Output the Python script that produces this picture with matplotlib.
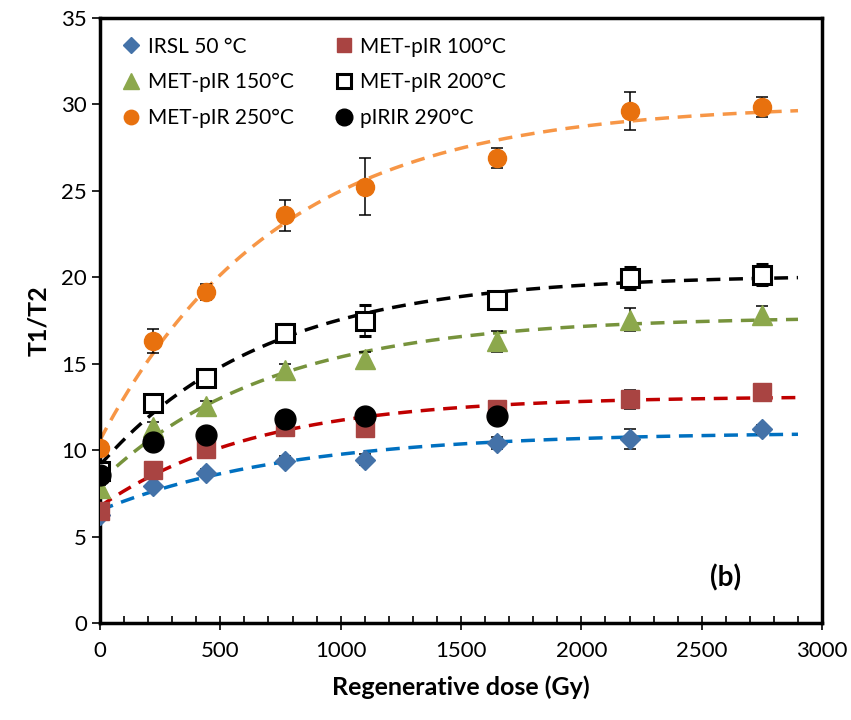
import numpy as np
import matplotlib
matplotlib.use("Agg")
import matplotlib.pyplot as plt
from matplotlib.ticker import MultipleLocator

plt.rcParams['font.family'] = ['Lato', 'DejaVu Sans']

dose = [0, 220, 440, 770, 1100, 1650, 2200, 2750]

irsl50 = [6.25, 7.9, 8.7, 9.4, 9.45, 10.4, 10.65, 11.2]
irsl50_err = [0.15, 0.2, 0.2, 0.25, 0.3, 0.35, 0.6, 0.25]
met100 = [6.5, 8.85, 10.05, 11.35, 11.3, 12.4, 12.95, 13.35]
met100_err = [0.2, 0.2, 0.2, 0.3, 0.3, 0.3, 0.55, 0.3]
met150 = [7.8, 11.35, 12.55, 14.65, 15.3, 16.3, 17.55, 17.8]
met150_err = [0.2, 0.3, 0.3, 0.35, 0.35, 0.6, 0.65, 0.55]
met200 = [8.8, 12.75, 14.15, 16.8, 17.5, 18.7, 19.95, 20.15]
met200_err = [0.2, 0.3, 0.35, 0.5, 0.9, 0.4, 0.65, 0.6]
met250 = [10.15, 16.3, 19.15, 23.6, 25.25, 26.9, 29.6, 29.85]
met250_err = [0.2, 0.7, 0.45, 0.9, 1.65, 0.6, 1.1, 0.6]
pirir290 = [8.55, 10.45, 10.85, 11.8, 12.0, 12.0]
pirir290_err = [0.2, 0.3, 0.3, 0.45, 0.35, 0.3]


def fit_sat(x, y):
    # y = a + b*(1 - exp(-x/D)), grid over D, linear least squares for a, b
    x = np.asarray(x, float)
    y = np.asarray(y, float)
    best = None
    for D in np.linspace(100, 3000, 600):
        A = np.column_stack([np.ones_like(x), 1 - np.exp(-x / D)])
        coef, res, _, _ = np.linalg.lstsq(A, y, rcond=None)
        r = np.sum((A @ coef - y) ** 2)
        if best is None or r < best[0]:
            best = (r, coef, D)
    _, (a, b), D = best
    return lambda t: a + b * (1 - np.exp(-t / D))


fig = plt.figure(figsize=(8.51, 7.2), dpi=100)
ax = fig.add_axes([0.1175, 0.1347, 0.8485, 0.8403])

xf = np.linspace(0, 2900, 300)
fits = [(irsl50, '#0070C0'), (met100, '#C00000'), (met150, '#77933C'),
        (met200, 'black'), (met250, '#F79646')]
for ys, c in fits:
    f = fit_sat(dose, ys)
    ax.plot(xf, f(xf), linestyle=(0, (4, 2.5)), color=c, lw=2.5, zorder=2)

eb = dict(ecolor='black', elinewidth=1.1, capsize=4, capthick=1.1, linestyle='none', zorder=3)
h1 = ax.errorbar(dose, irsl50, yerr=irsl50_err, marker='D', ms=10, color='#4472A8',
                 mec='#4472A8', **eb)
h2 = ax.errorbar(dose, met100, yerr=met100_err, marker='s', ms=13, color='#A94442',
                 mec='#A94442', **eb)
h3 = ax.errorbar(dose, met150, yerr=met150_err, marker='^', ms=14, color='#8CA84C',
                 mec='#8CA84C', **eb)
h4 = ax.errorbar(dose, met200, yerr=met200_err, marker='s', ms=13, color='black',
                 mfc='white', mec='black', mew=2.2, **eb)
h5 = ax.errorbar(dose, met250, yerr=met250_err, marker='o', ms=13, color='#E8710E',
                 mec='#E8710E', **eb)
h6 = ax.errorbar(dose[:6], pirir290, yerr=pirir290_err, marker='o', ms=15, color='black',
                 mec='black', **eb)

ax.set_xlim(0, 3000)
ax.set_ylim(0, 35)
ax.xaxis.set_major_locator(MultipleLocator(500))
ax.xaxis.set_minor_locator(MultipleLocator(100))
ax.yaxis.set_major_locator(MultipleLocator(5))
ax.tick_params(axis='x', which='major', direction='inout', length=10, width=1.2, labelsize=16, pad=8)
ax.tick_params(axis='x', which='minor', direction='in', length=5, width=1.2)
ax.tick_params(axis='y', which='major', direction='out', length=6, width=1.2, labelsize=16)
for s in ax.spines.values():
    s.set_linewidth(2.5)

ax.set_xlabel('Regenerative dose (Gy)', fontsize=18, fontweight='bold', labelpad=10)
ax.set_ylabel('T1/T2', fontsize=18, fontweight='bold', labelpad=8)
ax.text(2600, 2.6, '(b)', fontsize=20, fontweight='bold', ha='center', va='center')

# column-major order so rows read left to right like the reference
handles = [h1[0], h3[0], h5[0], h2[0], h4[0], h6[0]]
labels = ['IRSL 50 °C', 'MET-pIR 150°C', 'MET-pIR 250°C',
          'MET-pIR 100°C', 'MET-pIR 200°C', 'pIRIR 290°C']
ax.legend(handles, labels, ncol=2, loc='upper left', frameon=False, fontsize=15,
          handletextpad=0.2, columnspacing=1.8, labelspacing=0.75,
          handlelength=1.2, borderaxespad=0.5, markerscale=0.8)

fig.savefig('out.png', dpi=100)
